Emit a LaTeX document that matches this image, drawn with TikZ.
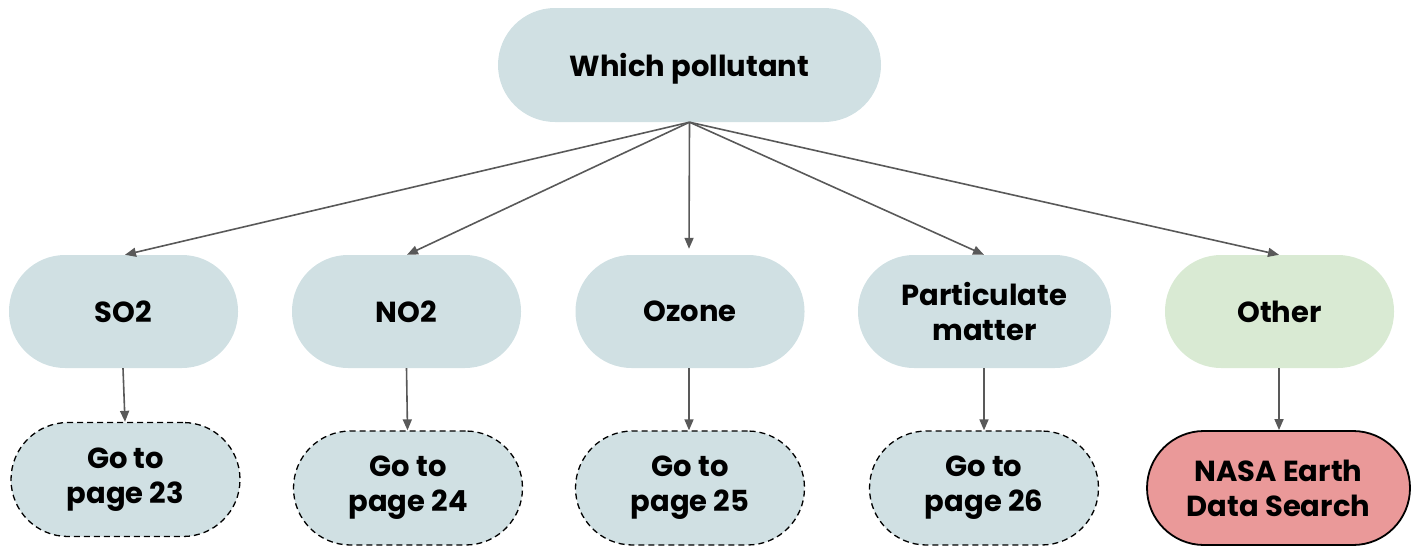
\documentclass[tikz,border=0pt]{standalone}
\usepackage{fontspec}
\setmainfont{Poppins}
\usetikzlibrary{arrows.meta}
\definecolor{boxblue}{HTML}{D0E0E3}
\definecolor{boxgreen}{HTML}{D9EAD3}
\definecolor{boxred}{HTML}{EA9999}
\definecolor{arrowgrey}{HTML}{595959}
\tikzset{
  pill/.style={rectangle, rounded corners=#1, align=center, inner sep=0pt,
    font=\fontsize{29}{35}\selectfont\bfseries, text=black},
  pillblue/.style={pill=56pt, fill=boxblue, minimum width=229pt, minimum height=113pt},
  pilldash/.style={pill=57pt, fill=boxblue, draw=black, line width=1.3pt,
    dash pattern=on 6pt off 4pt, minimum width=229pt, minimum height=114pt},
  link/.style={draw=arrowgrey, line width=1.6pt, -{Triangle[length=11pt,width=9pt]}},
}
\begin{document}
\begin{tikzpicture}[x=1pt,y=-1pt]
\useasboundingbox (0,0) rectangle (1412,552);
% root question
\node[pill=57pt, fill=boxblue, minimum width=383pt, minimum height=114pt,
  text height=26pt, text depth=4pt] (root) at (689.5,65) {Which pollutant};
% pollutant choices
\node[pillblue] (so2) at (123.5,311.5) {SO2};
\node[pillblue] (no2) at (406.5,311.5) {NO2};
\node[pillblue] (ozone) at (690,311.5) {Ozone};
\node[pillblue, minimum width=253pt] (pm) at (984.5,311.5) {Particulate\\matter};
\node[pillblue, fill=boxgreen] (other) at (1279.5,311.5) {Other};
% destinations
\node[pilldash] (p23) at (125.5,479.5) {Go to\\page 23};
\node[pilldash] (p24) at (408,488) {Go to\\page 24};
\node[pilldash] (p25) at (690,488) {Go to\\page 25};
\node[pilldash] (p26) at (984,488) {Go to\\page 26};
\node[pill=57pt, fill=boxred, draw=black, line width=1.8pt, minimum width=263pt, minimum height=114pt] (nasa) at (1278.5,488) {NASA Earth\\Data Search};
% connectors
\coordinate (hub) at (root.south);
\draw[link] (hub) -- ([xshift=1.5pt]so2.north);
\draw[link] (hub) -- ([xshift=0.5pt]no2.north);
\draw[link] (hub) -- ([xshift=-1pt,yshift=6pt]ozone.north);
\draw[link] (hub) -- ([xshift=-0.5pt]pm.north);
\draw[link] (hub) -- ([xshift=-0.5pt]other.north);
\draw[link] ([xshift=-0.5pt]so2.south) -- ([xshift=-0.5pt]p23.north);
\draw[link] ([xshift=0pt]no2.south) -- ([xshift=-0.5pt]p24.north);
\draw[link] ([xshift=-1pt]ozone.south) -- ([xshift=-1pt]p25.north);
\draw[link] ([xshift=-0.5pt]pm.south) -- (p26.north);
\draw[link] ([xshift=-0.5pt]other.south) -- ([xshift=0.5pt]nasa.north);
\end{tikzpicture}
\end{document}
